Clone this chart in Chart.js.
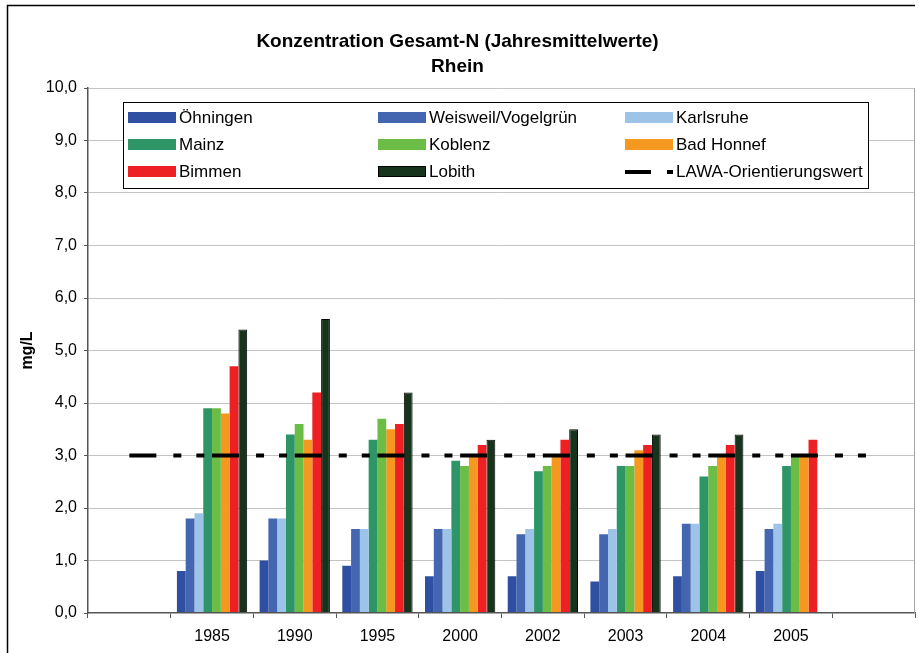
<!DOCTYPE html>
<html>
<head>
<meta charset="utf-8">
<script src="https://cdn.jsdelivr.net/npm/chart.js@4.4.1/dist/chart.umd.min.js"></script>
<style>
  html, body { margin: 0; padding: 0; background: #ffffff; }
  #wrap { width: 919px; height: 653px; }
</style>
</head>
<body>
<div id="wrap"><canvas id="c" width="919" height="653"></canvas></div>
<script>
// ---- data ----
const categories = ['', '1985', '1990', '1995', '2000', '2002', '2003', '2004', '2005', ''];
const oehningen  = [null, 0.8, 1.0, 0.9, 0.7, 0.7, 0.6, 0.7, 0.8, null];
const weisweil   = [null, 1.8, 1.8, 1.6, 1.6, 1.5, 1.5, 1.7, 1.6, null];
const karlsruhe  = [null, 1.9, 1.8, 1.6, 1.6, 1.6, 1.6, 1.7, 1.7, null];
const mainz      = [null, 3.9, 3.4, 3.3, 2.9, 2.7, 2.8, 2.6, 2.8, null];
const koblenz    = [null, 3.9, 3.6, 3.7, 2.8, 2.8, 2.8, 2.8, 3.0, null];
const badHonnef  = [null, 3.8, 3.3, 3.5, 3.0, 3.0, 3.1, 3.0, 3.0, null];
const bimmen     = [null, 4.7, 4.2, 3.6, 3.2, 3.3, 3.2, 3.2, 3.3, null];
const lobith     = [null, 5.4, 5.6, 4.2, 3.3, 3.5, 3.4, 3.4, null, null];
const lawa       = [3.0, 3.0, 3.0, 3.0, 3.0, 3.0, 3.0, 3.0, 3.0, 3.0];

const seriesNames = ['Öhningen', 'Weisweil/Vogelgrün', 'Karlsruhe', 'Mainz', 'Koblenz',
                     'Bad Honnef', 'Bimmen', 'Lobith', 'LAWA-Orientierungswert'];
const yTicks = [0, 1, 2, 3, 4, 5, 6, 7, 8, 9, 10];
const titleLines = ['Konzentration Gesamt-N (Jahresmittelwerte)', 'Rhein'];
const yTitle = 'mg/L';

const FONT = "'Liberation Sans', Arial, sans-serif";

const barSeries = [oehningen, weisweil, karlsruhe, mainz, koblenz, badHonnef, bimmen, lobith];
const barColors = ['#2f4fa2', '#4466b1', '#9ec3e8', '#2e9567', '#6cbd45', '#f5981f', '#ed2024', '#16341c'];

const datasets = barSeries.map((d, i) => ({
  type: 'bar',
  label: seriesNames[i],
  data: d,
  backgroundColor: barColors[i],
  borderColor: i === 7 ? '#000000' : barColors[i],
  borderWidth: i === 7 ? 1 : 0,
  categoryPercentage: 0.85,
  barPercentage: 1.0,
  order: 1
}));
datasets.push({
  type: 'line',
  label: seriesNames[8],
  data: lawa,
  borderColor: '#000000',
  borderWidth: 4,
  borderDash: [27, 17, 8, 15, 8, 7.7],
  borderCapStyle: 'butt',
  pointRadius: 0,
  fill: false,
  tension: 0,
  order: -1
});

const framePlugin = {
  id: 'frame',
  afterDraw(chart) {
    const ctx = chart.ctx;
    const a = chart.chartArea;
    ctx.save();
    // outer frame (top + left visible)
    ctx.strokeStyle = '#000000';
    ctx.lineWidth = 1.5;
    ctx.beginPath();
    ctx.moveTo(7.5, 653);
    ctx.lineTo(7.5, 5.5);
    ctx.lineTo(915, 5.5);
    ctx.stroke();
    // plot area border right
    ctx.strokeStyle = '#a6a6a6';
    ctx.lineWidth = 1;
    ctx.beginPath();
    ctx.moveTo(a.right - 0.5, a.top);
    ctx.lineTo(a.right - 0.5, a.bottom);
    ctx.stroke();

    // legend box
    const bx = 123.5, by = 102.5, bw = 745, bh = 86;
    ctx.fillStyle = '#ffffff';
    ctx.fillRect(bx, by, bw, bh);
    ctx.strokeStyle = '#000000';
    ctx.lineWidth = 1;
    ctx.strokeRect(bx, by, bw, bh);

    const colX = [128, 378, 625];
    const rowY = [117, 144, 171];
    ctx.font = '17px ' + FONT;
    ctx.textBaseline = 'middle';
    ctx.textAlign = 'left';
    chart.data.datasets.forEach((ds, i) => {
      const cx = colX[i % 3];
      const cy = rowY[Math.floor(i / 3)];
      if (ds.type === 'line') {
        ctx.strokeStyle = '#000000';
        ctx.lineWidth = 4;
        ctx.setLineDash([]);
        ctx.beginPath();
        ctx.moveTo(cx, cy + 1); ctx.lineTo(cx + 26, cy + 1);
        ctx.moveTo(cx + 42, cy + 1); ctx.lineTo(cx + 48, cy + 1);
        ctx.stroke();
      } else {
        ctx.fillStyle = ds.backgroundColor;
        ctx.fillRect(cx, cy - 5, 48, 11);
        if (ds.borderWidth) {
          ctx.strokeStyle = '#000000';
          ctx.lineWidth = 1;
          ctx.strokeRect(cx + 0.5, cy - 4.5, 47, 10);
        }
      }
      ctx.fillStyle = '#000000';
      ctx.fillText(ds.label, cx + 51, cy + 1);
    });
    ctx.restore();
  }
};

new Chart(document.getElementById('c'), {
  type: 'bar',
  data: { labels: categories, datasets: datasets },
  options: {
    responsive: false,
    animation: false,
    devicePixelRatio: 1,
    layout: { padding: { left: 0, right: 4, top: 0, bottom: 0 } },
    plugins: {
      legend: { display: false },
      tooltip: { enabled: false },
      title: {
        display: true,
        text: titleLines,
        color: '#000000',
        font: { family: FONT, size: 19, weight: 'bold', lineHeight: 25 / 19 },
        padding: { top: 29.5, bottom: 8.5 }
      }
    },
    scales: {
      x: {
        type: 'category',
        offset: true,
        grid: {
          display: true,
          offset: true,
          drawOnChartArea: false,
          drawTicks: true,
          tickLength: 5,
          color: '#555555',
          tickColor: '#555555'
        },
        border: { display: true, color: '#555555', width: 1.5, z: 1 },
        ticks: {
          color: '#000000',
          font: { family: FONT, size: 16 },
          padding: 9,
          maxRotation: 0,
          autoSkip: false
        },
        afterFit(scale) { scale.height = 40; }
      },
      y: {
        type: 'linear',
        min: 0,
        max: 10,
        afterBuildTicks(scale) { scale.ticks = yTicks.map(v => ({ value: v })); },
        grid: {
          display: true,
          drawOnChartArea: true,
          drawTicks: true,
          tickLength: 4,
          color: (c) => (c.tick && c.tick.value === 0) ? 'rgba(0,0,0,0)' : '#c4c4c4',
          tickColor: '#555555'
        },
        border: { display: true, color: '#555555', width: 1.5, z: 1 },
        ticks: {
          color: '#000000',
          font: { family: FONT, size: 16 },
          padding: 7,
          callback: (v) => Number(v).toFixed(1).replace('.', ',')
        },
        title: {
          display: true,
          text: yTitle,
          color: '#000000',
          font: { family: FONT, size: 16, weight: 'bold' },
          padding: { top: 18, bottom: 0 }
        },
        afterFit(scale) { scale.width = 88; }
      }
    }
  },
  plugins: [framePlugin]
});
</script>
</body>
</html>
